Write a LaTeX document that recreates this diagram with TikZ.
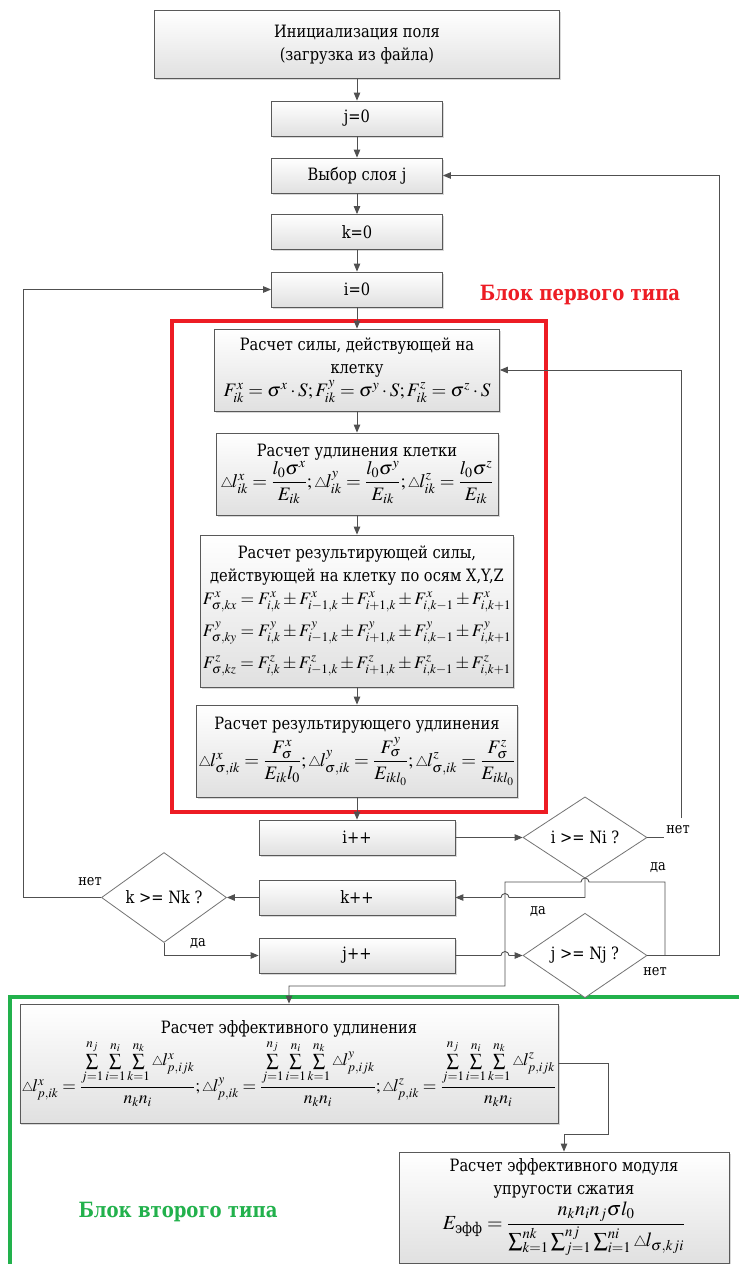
\documentclass[tikz,border=0pt]{standalone}
\usepackage{amsmath}
\usepackage{mathptmx}
\usepackage[no-math]{fontspec}
\setmainfont{DejaVu Serif}[FakeStretch=0.86]
\usetikzlibrary{arrows.meta,shadows,shapes.geometric}
\newcommand{\dl}{\mathord{\scriptstyle\triangle}\mkern-1mu}
\newcommand{\fs}{\fontsize{17}{23}\selectfont}
\newcommand{\mfs}{\fontsize{17.5}{21}\selectfont}
\newcommand{\bfs}{\fontsize{19}{23}\selectfont}
\definecolor{redb}{HTML}{ED1C24}
\definecolor{greenb}{HTML}{22B14C}
\definecolor{ln}{HTML}{505050}
\tikzset{
  proc/.style={draw=black!65, line width=0.8pt, top color=white, bottom color=black!12,
    drop shadow={shadow xshift=1.5pt,shadow yshift=-1.5pt,fill=black!30},
    align=center, inner sep=2pt, font=\fs},
  dec/.style={diamond, draw=black!55, line width=0.8pt, fill=white, inner sep=0pt,
    minimum width=124pt, font=\fs},
  conn/.style={draw=ln, line width=0.9pt},
  arr/.style={conn, -{Triangle[length=8pt,width=6.5pt]}},
  lbl/.style={font=\fontsize{15}{18}\selectfont, inner sep=0pt},
  title/.style={font=\fontsize{21}{24}\selectfont\bfseries},
}
\begin{document}
\begin{tikzpicture}[x=1pt,y=-1pt]
\clip (0,0) rectangle (739,1264);
\fill[white] (0,0) rectangle (739,1264);
% group frames
\draw[redb, line width=3.5pt] (172,321) rectangle (546,812);
\draw[greenb, line width=3.5pt] (10,997) rectangle (760,1290);
\node[title, text=redb] (t1) at (580,295) {Блок первого типа};
\node[title, text=greenb] (t2) at (178,1212) {Блок второго типа};
% nodes
\node[proc, minimum width=405pt, minimum height=68pt] (init) at (357,44.5) {Инициализация поля\\(загрузка из файла)};
\node[proc, minimum width=171pt, minimum height=35pt] (j0) at (357,118.5) {j=0};
\node[proc, minimum width=171pt, minimum height=35pt] (layer) at (357,175.5) {Выбор слоя j};
\node[proc, minimum width=171pt, minimum height=35pt] (k0) at (357,232) {k=0};
\node[proc, minimum width=171pt, minimum height=35pt] (i0) at (357,289.5) {i=0};
\node[proc, minimum width=285pt, minimum height=82pt] (b1) at (357,370)
 {Расчет силы, действующей на\\клетку\\
 {\bfs$F^{x}_{ik}=\sigma^{x}\cdot S;F^{y}_{ik}=\sigma^{y}\cdot S;F^{z}_{ik}=\sigma^{z}\cdot S$}};
\node[proc, minimum width=282pt, minimum height=82pt] (b2) at (357,474)
 {Расчет удлинения клетки\\
 {\bfs$\dl l^{x}_{ik}=\dfrac{l_0\sigma^{x}}{E_{ik}};\dl l^{y}_{ik}=\dfrac{l_0\sigma^{y}}{E_{ik}};\dl l^{z}_{ik}=\dfrac{l_0\sigma^{z}}{E_{ik}}$}};
\node[proc, minimum width=305pt, minimum height=152pt] (b3) at (357,611)
 {Расчет результирующей силы,\\действующей на клетку по осям X,Y,Z\\
 {\mfs$F^{x}_{\sigma,kx}=F^{x}_{i,k}\pm F^{x}_{i-1,k}\pm F^{x}_{i+1,k}\pm F^{x}_{i,k-1}\pm F^{x}_{i,k+1}$}\\[9pt]
 {\mfs$F^{y}_{\sigma,ky}=F^{y}_{i,k}\pm F^{y}_{i-1,k}\pm F^{y}_{i+1,k}\pm F^{y}_{i,k-1}\pm F^{y}_{i,k+1}$}\\[9pt]
 {\mfs$F^{z}_{\sigma,kz}=F^{z}_{i,k}\pm F^{z}_{i-1,k}\pm F^{z}_{i+1,k}\pm F^{z}_{i,k-1}\pm F^{z}_{i,k+1}$}};
\node[proc, minimum width=290pt, minimum height=92pt] (b4) at (357,751)
 {Расчет результирующего удлинения\\[4pt]
 {\bfs$\dl l^{x}_{\sigma,ik}=\dfrac{F^{x}_{\sigma}}{E_{ik}l_0};\dl l^{y}_{\sigma,ik}=\dfrac{F^{y}_{\sigma}}{E_{ikl_0}};\dl l^{z}_{\sigma,ik}=\dfrac{F^{z}_{\sigma}}{E_{ikl_0}}$}};
\node[proc, minimum width=196pt, minimum height=35pt] (ipp) at (357,837.5) {i++};
\node[proc, minimum width=196pt, minimum height=35pt] (kpp) at (357,897.5) {k++};
\node[proc, minimum width=196pt, minimum height=35pt] (jpp) at (357,955.5) {j++};
\node[dec, minimum height=57pt] (dI) at (585,837.5) {i >= Ni ?};
\node[dec, minimum width=125pt, minimum height=67pt] (dK) at (164,897.5) {k >= Nk ?};
\node[dec, minimum height=67pt] (dJ) at (585,955.5) {j >= Nj ?};
\node[proc, minimum width=537pt, minimum height=119pt] (g1) at (289,1063.5)
 {Расчет эффективного удлинения\\[2pt]
 {\mfs$\dl l^{x}_{p,ik}=\dfrac{\sum\limits_{j=1}^{n_j}\sum\limits_{i=1}^{n_i}\sum\limits_{k=1}^{n_k}\dl l^{x}_{p,ijk}}{n_k n_i};
 \dl l^{y}_{p,ik}=\dfrac{\sum\limits_{j=1}^{n_j}\sum\limits_{i=1}^{n_i}\sum\limits_{k=1}^{n_k}\dl l^{y}_{p,ijk}}{n_k n_i};
 \dl l^{z}_{p,ik}=\dfrac{\sum\limits_{j=1}^{n_j}\sum\limits_{i=1}^{n_i}\sum\limits_{k=1}^{n_k}\dl l^{z}_{p,ijk}}{n_k n_i}$}};
\node[proc, minimum width=330pt, minimum height=111pt] (g2) at (564,1207.5)
 {Расчет эффективного модуля\\упругости сжатия\\[2pt]
 {\fontsize{20}{24}\selectfont$E_{\text{эфф}}=\dfrac{n_k n_i n_j\sigma l_0}{\sum_{k=1}^{nk}\sum_{j=1}^{nj}\sum_{i=1}^{ni}\dl l_{\sigma,kji}}$}};
% connectors
\draw[arr] (init) -- (j0);
\draw[arr] (j0) -- (layer);
\draw[arr] (layer) -- (k0);
\draw[arr] (k0) -- (i0);
\draw[arr] (i0) -- (b1);
\draw[arr] (b1) -- (b2);
\draw[arr] (b2) -- (b3);
\draw[arr] (b3) -- (b4);
\draw[arr] (b4) -- (ipp);
\draw[arr] (ipp) -- (dI);
\draw[arr] (dI.south) -- (585,897.5) -- (509,897.5) arc[start angle=0,end angle=180,radius=4pt] -- (kpp.east);
\draw[arr] (kpp) -- (dK);
\draw[arr] (dK.west) -- (23,897.5) |- (i0.west);
\draw[arr] (dK.south) |- (jpp.west);
\draw[arr] (jpp.east) -- (501,955.5) arc[start angle=180,end angle=0,radius=4pt] -- (dJ.west);
\draw[arr] (dJ.east) -- (719,955.5) |- (layer.east);
\coordinate (br) at (665,955.5);
\draw[arr] (br) -- (665,882) -- (589,882) arc[start angle=0,end angle=180,radius=4pt] -- (505,882) -- (505,986) -- (289,986) -- (g1.north);
\coordinate (nIa) at (664,837.5);
\coordinate (nIb) at (681,818);
\draw[conn] (dI.east) -- (nIa);
\draw[arr] (nIb) |- (b1.east);
\draw[arr] (g1.east) -- (608,1063.5) -- (608,1134) -- (564,1134) -- (g2.north);
% labels
\node[lbl] (l1) at (678,830) {нет};
\node[lbl] (l2) at (90,882) {нет};
\node[lbl] (l3) at (198,944) {да};
\node[lbl] (l4) at (658,868) {да};
\node[lbl] (l5) at (538,912) {да};
\node[lbl] (l6) at (655,972) {нет};
\end{tikzpicture}
\end{document}
